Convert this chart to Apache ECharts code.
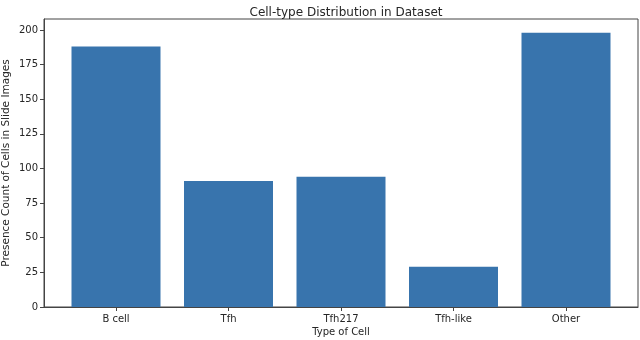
<!DOCTYPE html>
<html>
<head>
<meta charset="utf-8">
<script src="https://cdn.jsdelivr.net/npm/echarts@6/dist/echarts.min.js"></script>
<style>
  html, body { margin: 0; padding: 0; background: #fff; }
  #chart { width: 640px; height: 340px; }
</style>
</head>
<body>
<div id="chart"></div>
<script>
const categories = ['B cell', 'Tfh', 'Tfh217', 'Tfh-like', 'Other']
const counts = [188, 91, 94, 29, 198]
const yTicks = [0, 25, 50, 75, 100, 125, 150, 175, 200]
const positions = categories.map((c, i) => i)

const font = 'DejaVu Sans'
const ink = '#262626'
const frame = '#444'

const chart = echarts.init(document.getElementById('chart'))
chart.setOption({
    animation: false,
    title: {
        text: 'Cell-type Distribution in Dataset',
        left: 341,
        textAlign: 'center',
        top: 2,
        textStyle: { fontFamily: font, fontSize: 12, fontWeight: 'normal', color: ink }
    },
    grid: {
        left: 44,
        right: 2,
        top: 19,
        bottom: 33,
        containLabel: false,
        outerBoundsMode: 'none',
        show: true,
        borderColor: frame,
        borderWidth: 1
    },
    xAxis: {
        type: 'value',
        min: -0.64,
        max: 4.64,
        name: 'Type of Cell',
        nameLocation: 'middle',
        nameGap: 20,
        nameMoveOverlap: false,
        nameTextStyle: { fontFamily: font, fontSize: 10, color: ink },
        axisLine: { show: true, onZero: false, lineStyle: { color: frame } },
        axisTick: { show: true, length: 4, customValues: positions, lineStyle: { color: frame } },
        axisLabel: {
            customValues: positions,
            margin: 7,
            fontFamily: font,
            fontSize: 10,
            color: ink,
            formatter: v => categories[Math.round(v)]
        },
        splitLine: { show: false }
    },
    yAxis: {
        type: 'value',
        min: 0,
        max: 207.9,
        name: 'Presence Count of Cells in Slide Images',
        nameLocation: 'middle',
        nameGap: 32,
        nameMoveOverlap: false,
        nameTextStyle: { fontFamily: font, fontSize: 10.5, color: ink },
        axisLine: { show: true, onZero: false, lineStyle: { color: frame } },
        axisTick: { show: true, length: 4, customValues: yTicks, lineStyle: { color: frame } },
        axisLabel: {
            customValues: yTicks,
            margin: 6,
            fontFamily: font,
            fontSize: 10,
            color: ink
        },
        splitLine: { show: false }
    },
    series: [
        {
            type: 'bar',
            barWidth: 89,
            itemStyle: { color: '#3874ad' },
            data: categories.map((c, i) => [i, counts[i]])
        }
    ]
})
</script>
</body>
</html>
